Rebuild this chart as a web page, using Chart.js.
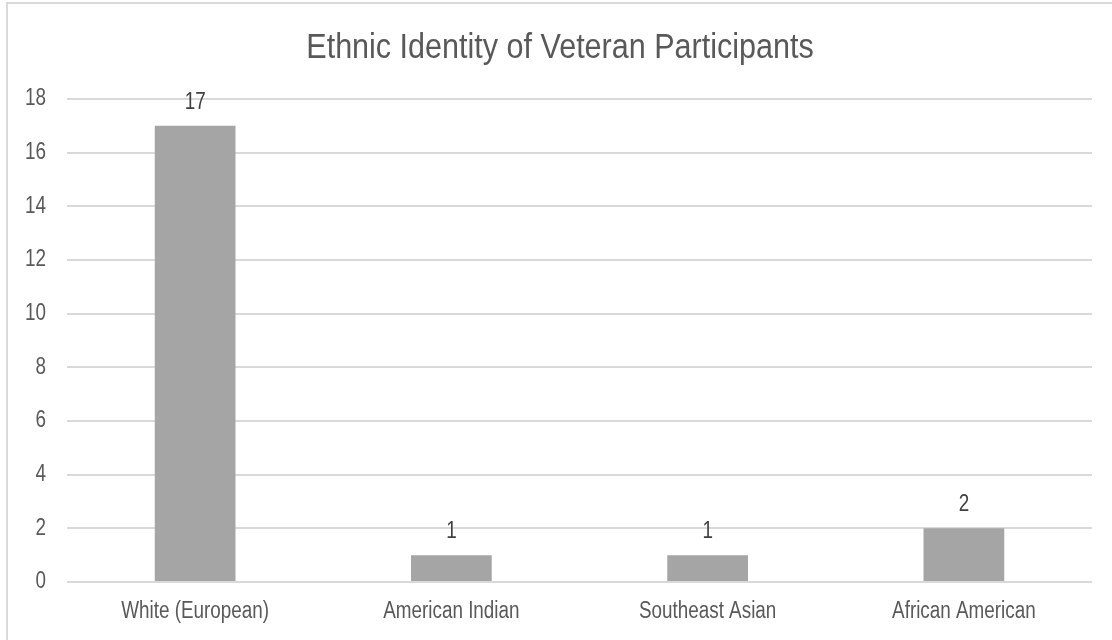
<!DOCTYPE html>
<html>
<head>
<meta charset="utf-8">
<script src="https://cdn.jsdelivr.net/npm/chart.js@4.4.1/dist/chart.umd.min.js"></script>
<style>
  html, body { margin: 0; padding: 0; background: #fff; overflow: hidden; }
  #frame {
    position: absolute; left: 6px; top: 2px; width: 1200px; height: 700px;
    border-left: 2px solid #d9d9d9; border-top: 2px solid #d9d9d9;
  }
  #chart { position: absolute; left: 0; top: 0; }
</style>
</head>
<body>
<div id="frame"></div>
<canvas id="chart" width="1112" height="640"></canvas>
<script>
const categories = ['White (European)', 'American Indian', 'Southeast Asian', 'African American'];
const participants = [17, 1, 1, 2];
const yTicks = [0, 2, 4, 6, 8, 10, 12, 14, 16, 18];
const chartTitle = 'Ethnic Identity of Veteran Participants';

const FONT = "'Liberation Sans Narrow', 'Arial Narrow', 'Liberation Sans', Arial, sans-serif";
const TEXT_GREY = '#595959';

// Condensed text: draw with a horizontal squeeze so the regular face reads like a narrow one
function narrowText(ctx, text, x, y, size, squeeze, align, baseline, color) {
  ctx.save();
  ctx.font = size + 'px ' + FONT;
  ctx.fillStyle = color;
  ctx.textAlign = align;
  ctx.textBaseline = baseline;
  ctx.translate(x, y);
  ctx.scale(squeeze, 1);
  ctx.fillText(text, 0, 0);
  ctx.restore();
}

// Title, axis labels and value labels, all placed through the chart's scales
const textLayer = {
  id: 'textLayer',
  afterDraw(chart) {
    const ctx = chart.ctx;
    const xs = chart.scales.x;
    const ys = chart.scales.y;
    const SMALL = 23, SQ = 0.82;

    narrowText(ctx, chartTitle, chart.width / 2 + 4, 58, 35.5, 0.86, 'center', 'alphabetic', TEXT_GREY);

    yTicks.forEach(v => {
      narrowText(ctx, String(v), 46, ys.getPixelForValue(v), SMALL, SQ, 'right', 'middle', TEXT_GREY);
    });

    categories.forEach((c, i) => {
      narrowText(ctx, c, xs.getPixelForValue(i), 618, SMALL, SQ, 'center', 'alphabetic', TEXT_GREY);
    });

    const meta = chart.getDatasetMeta(0);
    meta.data.forEach((bar, i) => {
      narrowText(ctx, String(participants[i]), bar.x, bar.y - 17, SMALL, SQ, 'center', 'alphabetic', '#404040');
    });
  }
};

new Chart(document.getElementById('chart'), {
  type: 'bar',
  data: {
    labels: categories,
    datasets: [{
      data: participants,
      backgroundColor: '#a5a5a5',
      borderWidth: 0,
      barPercentage: 0.315,
      categoryPercentage: 1
    }]
  },
  options: {
    responsive: false,
    animation: false,
    layout: { padding: { left: 67, right: 20, top: 99, bottom: 58 } },
    plugins: {
      legend: { display: false },
      tooltip: { enabled: false },
      title: { display: false }
    },
    scales: {
      x: {
        afterFit(scale) { scale.height = 0; },
        grid: { display: false, drawTicks: false },
        border: { display: false },
        ticks: { display: false }
      },
      y: {
        min: 0,
        max: 18,
        afterBuildTicks(scale) {
          scale.ticks = yTicks.map(v => ({ value: v }));
        },
        afterFit(scale) { scale.width = 0; },
        grid: { color: '#d9d9d9', lineWidth: 2, drawTicks: false },
        border: { display: false },
        ticks: { display: false }
      }
    }
  },
  plugins: [textLayer]
});
</script>
</body>
</html>
